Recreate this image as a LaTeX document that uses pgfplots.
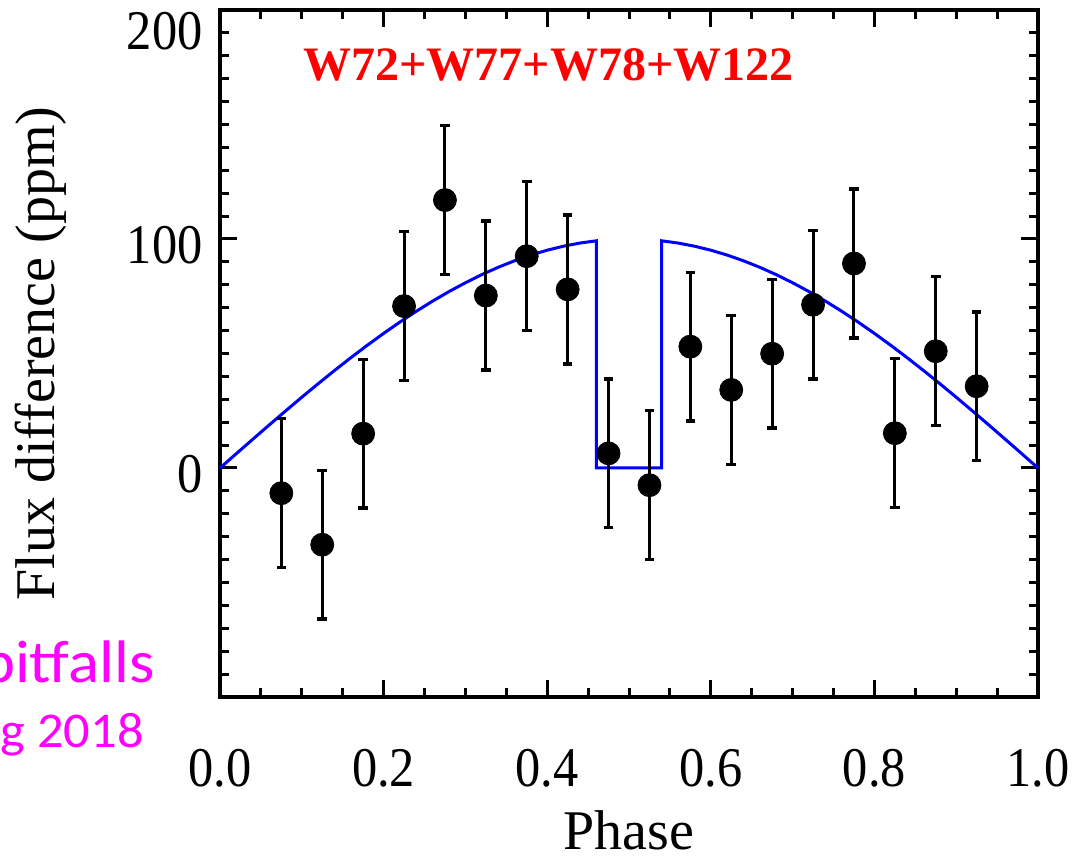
\documentclass[border=0pt]{standalone}
\usepackage{fontspec}
\setmainfont{Liberation Serif}
\newfontfamily\tickfont[FakeStretch=0.9]{Liberation Serif}
\newfontfamily\calfont[FakeStretch=1.08]{Carlito}
\newfontfamily\calfontb[FakeStretch=1.05]{Carlito}
\usepackage{pgfplots}
\usepackage{pgfplotstable}
\pgfplotsset{compat=1.18}
\definecolor{magent}{RGB}{255,0,255}
\definecolor{pureblue}{RGB}{0,0,255}
\definecolor{purered}{RGB}{255,0,0}

\pgfplotstableread{
x y e
0.075 -11.0 32.5
0.125 -33.5 32.5
0.175 15.0 32.5
0.225 70.7 32.5
0.275 117.0 32.5
0.325 75.3 32.5
0.375 92.5 32.5
0.425 78.0 32.5
0.475 6.4 32.5
0.525 -7.5 32.5
0.575 53.0 32.5
0.625 34.1 32.5
0.675 49.9 32.5
0.725 71.3 32.5
0.775 89.3 32.5
0.825 15.2 32.5
0.875 51.0 32.5
0.925 35.7 32.5
}\datatable

\begin{document}
\begin{tikzpicture}
\begin{axis}[
  scale only axis,
  width=409pt, height=343.5pt,
  xmin=0, xmax=1, ymin=-100, ymax=200,
  clip=false,
  xtick={0,0.2,0.4,0.6,0.8,1.0},
  xticklabels={0.0,0.2,0.4,0.6,0.8,1.0},
  minor x tick num=3,
  ytick={-100,0,100,200},
  yticklabels={,0,100,\raisebox{-17pt}[0pt][0pt]{200}},
  minor y tick num=9,
  tick align=inside,
  major tick length=8.5pt, minor tick length=4.5pt,
  every tick/.style={black, line width=1.5pt},
  axis line style={black, line width=1.8pt},
  xticklabel style={font=\tickfont\fontsize{28}{28}\selectfont, anchor=north, inner sep=0pt, yshift=-26pt},
  yticklabel style={font=\tickfont\fontsize{28}{28}\selectfont, anchor=east, inner sep=0pt, xshift=-8.5pt, yshift=-3pt},
  xlabel={Phase},
  ylabel={Flux difference (ppm)},
  xlabel style={font=\fontsize{28}{30}\selectfont, at={(axis description cs:0.5,-0.2227)}, anchor=base, inner sep=0pt},
  ylabel style={font=\fontsize{28}{30}\selectfont, at={(axis description cs:-0.2017,0.5)}, anchor=base, inner sep=0pt},
]
\addplot[pureblue, line width=1.5pt, mark=none] coordinates {
(0,0) (0.02,6.28) (0.04,12.53) (0.06,18.74) (0.08,24.87) (0.10,30.90)
(0.12,36.81) (0.14,42.58) (0.16,48.18) (0.18,53.58) (0.20,58.78)
(0.22,63.74) (0.24,68.45) (0.26,72.90) (0.28,77.05) (0.30,80.90)
(0.32,84.43) (0.34,87.63) (0.36,90.48) (0.38,92.98) (0.40,95.11)
(0.42,96.86) (0.44,98.23) (0.46,99.21)
(0.46,0) (0.54,0)
(0.54,99.21) (0.56,98.23) (0.58,96.86) (0.60,95.11) (0.62,92.98)
(0.64,90.48) (0.66,87.63) (0.68,84.43) (0.70,80.90) (0.72,77.05)
(0.74,72.90) (0.76,68.45) (0.78,63.74) (0.80,58.78) (0.82,53.58)
(0.84,48.18) (0.86,42.58) (0.88,36.81) (0.90,30.90) (0.92,24.87)
(0.94,18.74) (0.96,12.53) (0.98,6.28) (1.00,0)
};
\addplot[only marks, mark=*, mark size=5.75pt, black, mark options={fill=black, draw=black},
  error bars/.cd, y dir=both, y explicit,
  error bar style={line width=1.5pt, black},
  error mark options={rotate=90, mark size=2.4pt, line width=1.7pt, black}]
  table[x=x, y=y, y error=e] {\datatable};
\node[anchor=base west, inner sep=0pt, text=purered, font=\bfseries\fontsize{24}{24}\selectfont] at (rel axis cs:0.1015,0.898) {W72+W77+W78+W122};
\node[anchor=base east, inner sep=0pt, text=magent, font=\calfont\fontsize{30}{30}\selectfont] at (rel axis cs:-0.0795,0.0204) {pitfalls};
\node[anchor=base east, inner sep=0pt, text=magent, font=\calfontb\fontsize{25}{25}\selectfont] at (rel axis cs:-0.0929,-0.0742) {g 2018};
\end{axis}
\pgfresetboundingbox
\path[use as bounding box] ([shift={(-110pt,-82pt)}]current axis.south west) rectangle ([shift={(19pt,5pt)}]current axis.north east);
\end{tikzpicture}
\end{document}
